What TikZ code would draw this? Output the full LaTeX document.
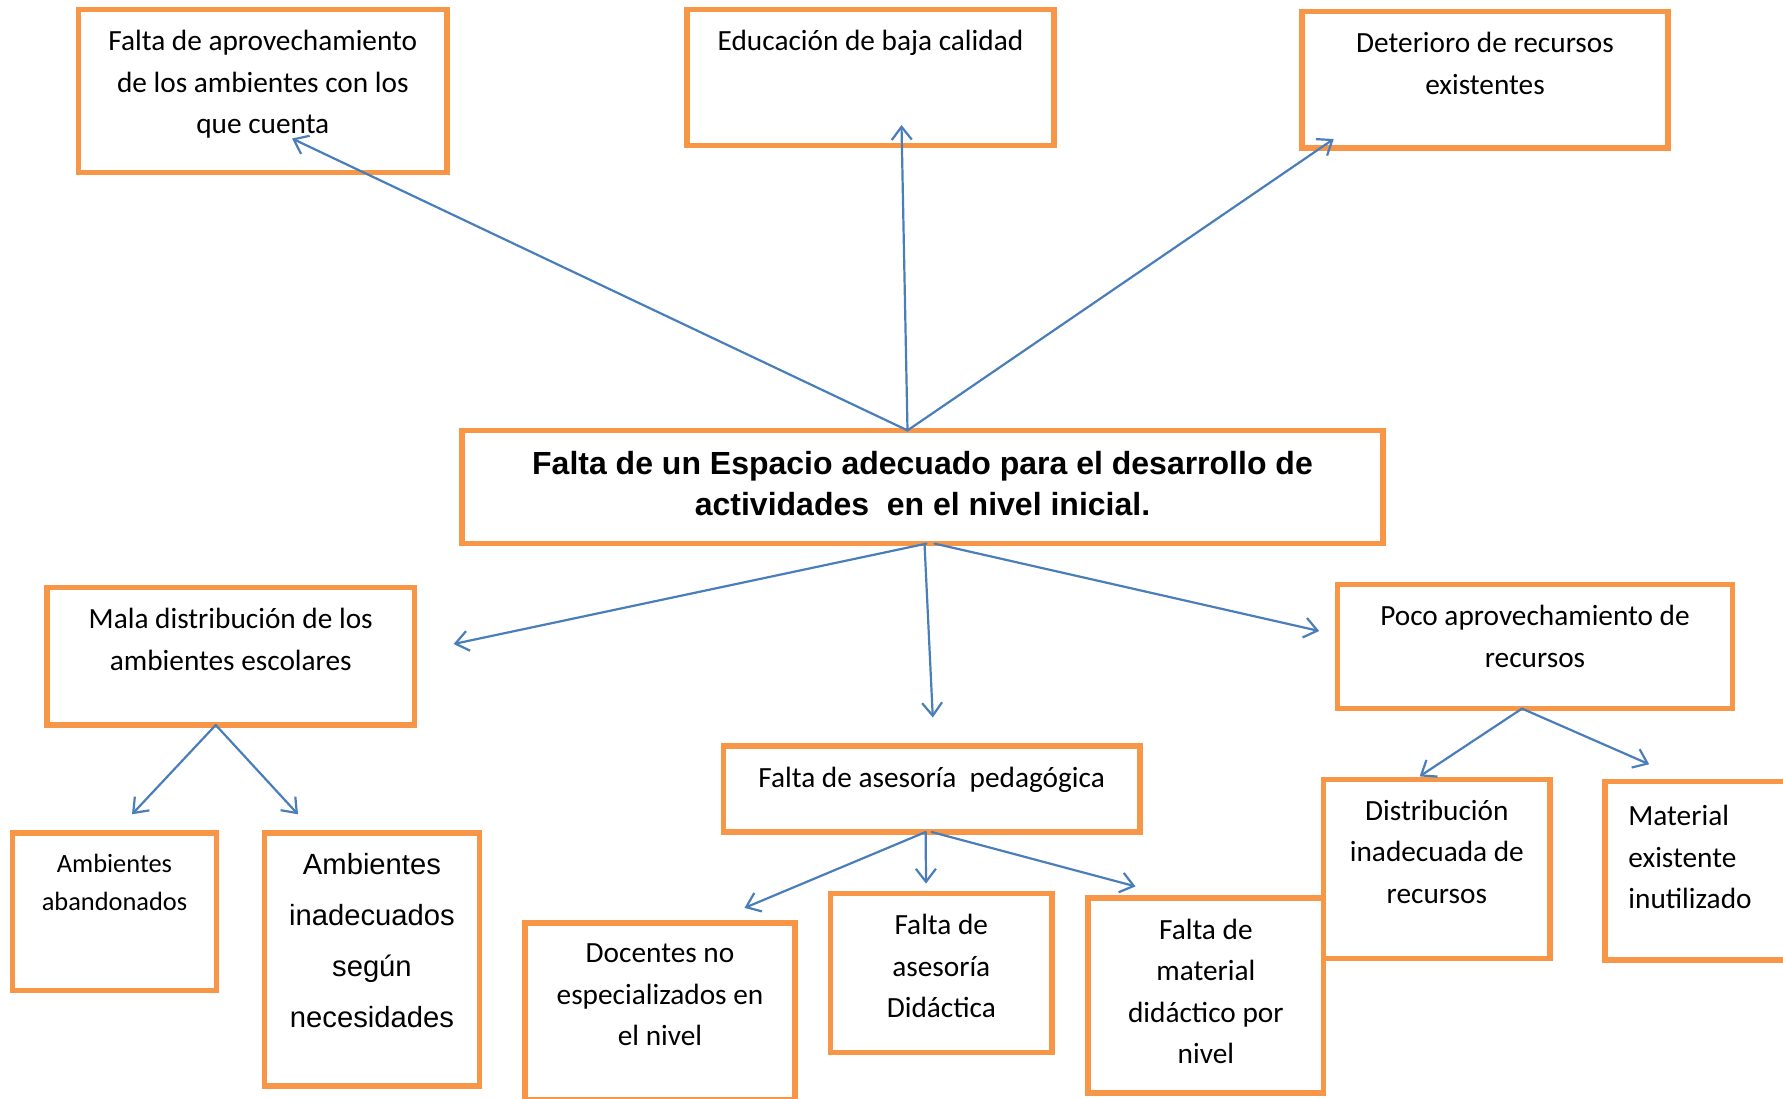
\documentclass[tikz,border=0pt]{standalone}
\usepackage{fontspec}
\setmainfont{Carlito}
\newfontfamily\arialfont{Liberation Sans}
\usetikzlibrary{arrows.meta}
\definecolor{cajaorange}{HTML}{F79646}
\definecolor{flechablue}{HTML}{4A7EBB}
\begin{document}
\begin{tikzpicture}[x=0.5pt,y=-0.5pt,
  caja/.style={draw=cajaorange, line width=2.6pt, fill=white, outer sep=0pt, inner sep=0pt},
  texto/.style={inner sep=0pt, align=center, anchor=north, yshift=-10.2pt, font=\fontsize{14.65}{20.75}\selectfont},
  flecha/.style={draw=flechablue, line width=1.1pt, line cap=round, -{Straight Barb[length=6.5pt,width=10pt,line width=1.1pt]}}]
\useasboundingbox (0,0) rectangle (1783,1098);
\clip (0,0) rectangle (1783,1098);
\node [caja, minimum width=184.2pt, minimum height=81.65pt, label={[texto]north:{Falta de aprovechamiento\\de los ambientes con los\\que cuenta}}] (aprov) at (262.8,91.2) {};
\node [caja, minimum width=183.5pt, minimum height=67.9pt, label={[texto]north:{Educación de baja calidad}}] (educ) at (870.5,77.5) {};
\node [caja, minimum width=183pt, minimum height=68.1pt, label={[texto]north:{Deterioro de recursos\\existentes}}] (deter) at (1485,79.9) {};
\node [caja, minimum width=460.5pt, minimum height=56.6pt, label={[texto, font=\arialfont\bfseries\fontsize{16}{20.5}\selectfont]north:{Falta de un Espacio adecuado para el desarrollo de\\actividades \ en el nivel inicial.}}] (main) at (922.5,487) {};
\node [caja, minimum width=183.75pt, minimum height=68.75pt, label={[texto]north:{Mala distribución de los\\ambientes escolares}}] (mala) at (230.75,656.25) {};
\node [caja, minimum width=197.5pt, minimum height=62pt, label={[texto]north:{Poco aprovechamiento de\\recursos}}] (poco) at (1535,646.6) {};
\node [caja, minimum width=208.35pt, minimum height=43pt, label={[texto]north:{Falta de asesoría \ pedagógica}}] (asesp) at (931.65,789) {};
\node [caja, minimum width=101.9pt, minimum height=78.85pt, label={[texto, font=\fontsize{13.2}{19}\selectfont]north:{Ambientes\\abandonados}}] (aband) at (114.5,911.85) {};
\node [caja, minimum width=107.35pt, minimum height=126.5pt, label={[texto, yshift=0pt, font=\arialfont\fontsize{14.6}{25.5}\selectfont]north:{Ambientes\\inadecuados\\según\\necesidades}}] (inadec) at (371.95,959.5) {};
\node [caja, minimum width=135pt, minimum height=88.5pt, label={[texto]north:{Docentes no\\especializados en\\el nivel}}] (docent) at (660,1011.5) {};
\node [caja, minimum width=110.7pt, minimum height=79.45pt, label={[texto]north:{Falta de\\asesoría\\Didáctica}}] (asesd) at (941.3,973.05) {};
\node [caja, minimum width=117.85pt, minimum height=97.5pt, label={[texto]north:{Falta de\\material\\didáctico por\\nivel}}] (matdid) at (1205.85,995.5) {};
\node [caja, minimum width=113.15pt, minimum height=89.65pt, label={[texto]north:{Distribución\\inadecuada de\\recursos}}] (distrib) at (1436.85,868.95) {};
\node [caja, minimum width=97.5pt, minimum height=89.15pt, label={[texto, align=left, anchor=north west, xshift=11.5pt, yshift=-1.5pt]north west:{Material\\existente\\inutilizado}}] (matex) at (1702.5,870.85) {};
\coordinate (t-aprov) at (292,138.5);
\coordinate (t-educ) at (901.5,125);
\coordinate (t-deter) at (1333.7,139);
\coordinate (t-mala) at (453.6,644);
\coordinate (t-asesp) at (932.8,717.5);
\coordinate (t-poco) at (1319.2,631);
\coordinate (t-aband) at (132,814.3);
\coordinate (t-inadec) at (298,814.3);
\coordinate (t-docent) at (744.5,907.9);
\coordinate (t-asesd) at (926,883.6);
\coordinate (t-matdid) at (1135.5,886.4);
\coordinate (t-distrib) at (1419.6,776.4);
\coordinate (t-matex) at (1649.2,764.3);
\draw [flecha] ([xshift=-7.5pt]main.north) -- (t-aprov);
\draw [flecha] ([xshift=-7.5pt]main.north) -- (t-educ);
\draw [flecha] ([xshift=-7.5pt]main.north) -- (t-deter);
\draw [flecha] ([xshift=2pt]main.south) -- (t-mala);
\draw [flecha] ([xshift=1pt]main.south) -- (t-asesp);
\draw [flecha] ([xshift=6pt]main.south) -- (t-poco);
\draw [flecha] ([xshift=-7.5pt]mala.south) -- (t-aband);
\draw [flecha] ([xshift=-7.5pt]mala.south) -- (t-inadec);
\draw [flecha] ([xshift=-3pt]asesp.south) -- (t-docent);
\draw [flecha] ([xshift=-3pt]asesp.south) -- (t-asesd);
\draw [flecha] (asesp.south) -- (t-matdid);
\draw [flecha] ([xshift=-6.5pt]poco.south) -- (t-distrib);
\draw [flecha] ([xshift=-6.5pt]poco.south) -- (t-matex);
\end{tikzpicture}
\end{document}
